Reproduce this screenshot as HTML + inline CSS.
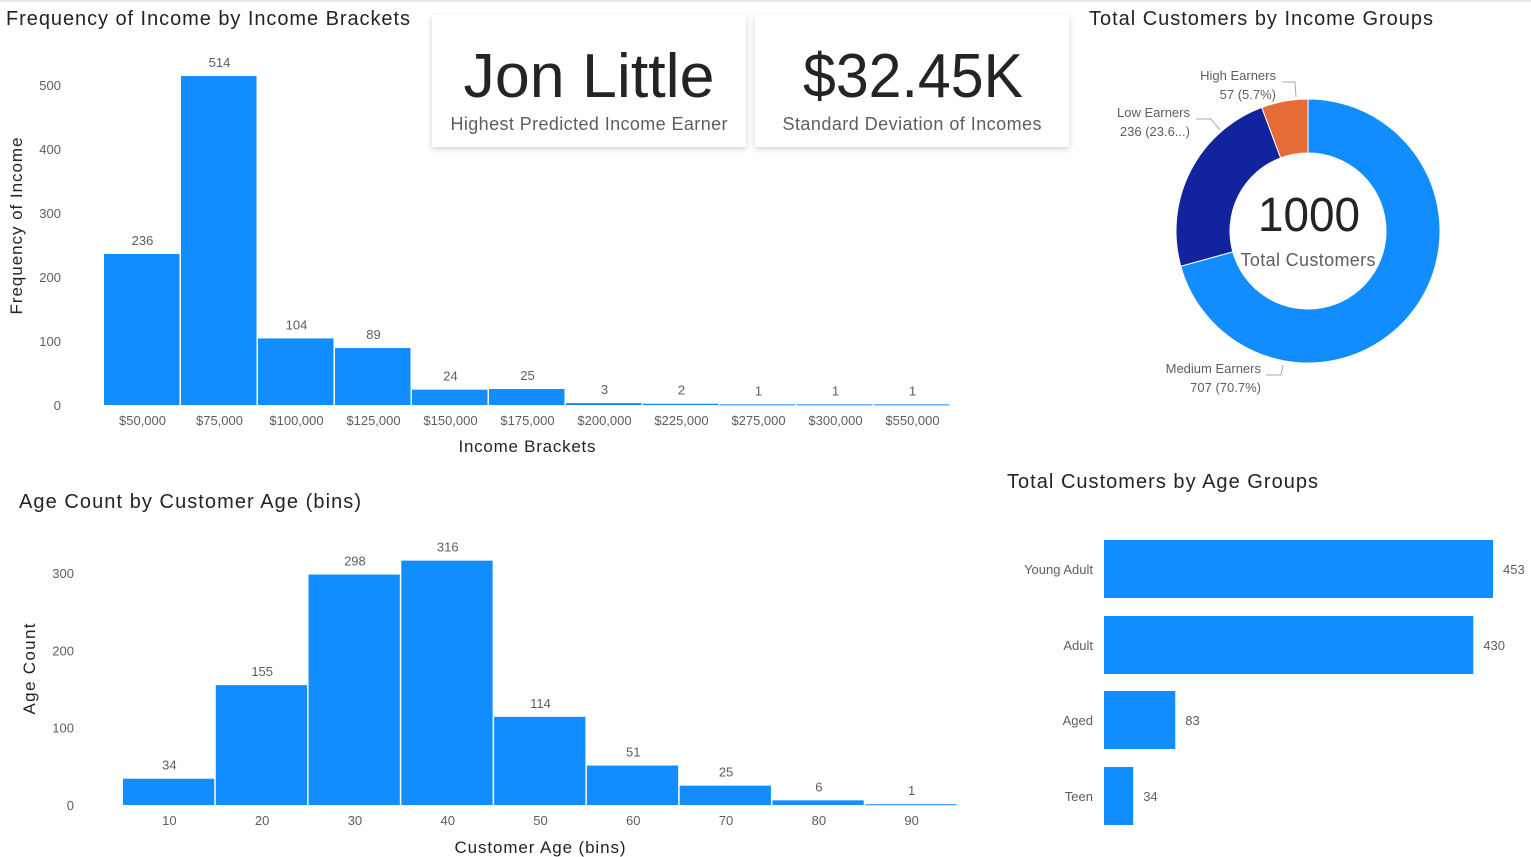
<!DOCTYPE html>
<html><head><meta charset="utf-8">
<style>
html,body{margin:0;padding:0;background:#fff;width:1531px;height:857px;overflow:hidden;font-family:"Liberation Sans",sans-serif;}
svg text{font-family:"Liberation Sans",sans-serif;}
</style></head>
<body>
<svg id="s" width="1531" height="857" xmlns="http://www.w3.org/2000/svg">
<defs>
<filter id="sh" x="-10%" y="-10%" width="120%" height="130%"><feDropShadow dx="0" dy="2" stdDeviation="3" flood-color="#000" flood-opacity="0.18"/></filter>
</defs>
<rect x="0" y="0" width="1531" height="2" fill="#e8e8e8"/>
<text x="6" y="25" font-size="20" fill="#252423" textLength="404" lengthAdjust="spacing">Frequency of Income by Income Brackets</text>
<g id="c1"></g>
<text transform="translate(22,226) rotate(-90)" text-anchor="middle" font-size="17" fill="#252423" textLength="177" lengthAdjust="spacing">Frequency of Income</text>
<text x="527" y="452" text-anchor="middle" font-size="17" fill="#252423" textLength="137" lengthAdjust="spacing">Income Brackets</text>

<g>
<rect x="432" y="15" width="314" height="132" fill="#fff" filter="url(#sh)"/>
<text x="589" y="97" text-anchor="middle" font-size="62" fill="#252423" textLength="251" lengthAdjust="spacingAndGlyphs">Jon Little</text>
<text x="589" y="130" text-anchor="middle" font-size="18" fill="#605E5C" textLength="277" lengthAdjust="spacing">Highest Predicted Income Earner</text>
</g>
<g>
<rect x="755" y="15" width="314" height="132" fill="#fff" filter="url(#sh)"/>
<text x="913" y="97" text-anchor="middle" font-size="62" fill="#252423" textLength="220" lengthAdjust="spacingAndGlyphs">$32.45K</text>
<text x="912" y="130" text-anchor="middle" font-size="18" fill="#605E5C" textLength="259" lengthAdjust="spacing">Standard Deviation of Incomes</text>
</g>

<text x="1089" y="25" font-size="20" fill="#252423" textLength="344" lengthAdjust="spacing">Total Customers by Income Groups</text>
<g id="c2"></g>
<text x="1309" y="231" text-anchor="middle" font-size="48" fill="#252423" textLength="102" lengthAdjust="spacingAndGlyphs">1000</text>
<text x="1308" y="266" text-anchor="middle" font-size="18" fill="#605E5C" textLength="135" lengthAdjust="spacing">Total Customers</text>

<text x="19" y="508" font-size="20" fill="#252423" textLength="342" lengthAdjust="spacing">Age Count by Customer Age (bins)</text>
<g id="c3"></g>
<text transform="translate(35,669) rotate(-90)" text-anchor="middle" font-size="17" fill="#252423" textLength="91" lengthAdjust="spacing">Age Count</text>
<text x="540" y="853" text-anchor="middle" font-size="17" fill="#252423" textLength="171" lengthAdjust="spacing">Customer Age (bins)</text>

<text x="1007" y="488" font-size="20" fill="#252423" textLength="311" lengthAdjust="spacing">Total Customers by Age Groups</text>
<g id="c4"></g>
</svg>
<script>
const incomeCats=["$50,000","$75,000","$100,000","$125,000","$150,000","$175,000","$200,000","$225,000","$275,000","$300,000","$550,000"];
const incomeVals=[236,514,104,89,24,25,3,2,1,1,1];
const incomeTicks=[0,100,200,300,400,500];
const groupCats=["Medium Earners","Low Earners","High Earners"];
const groupVals=[707,236,57];
const groupLabels=["707 (70.7%)","236 (23.6...)","57 (5.7%)"];
const ageCats=["10","20","30","40","50","60","70","80","90"];
const ageVals=[34,155,298,316,114,51,25,6,1];
const ageTicks=[0,100,200,300];
const ageGroupCats=["Young Adult","Adult","Aged","Teen"];
const ageGroupVals=[453,430,83,34];

const NS="http://www.w3.org/2000/svg";
function mk(p,tag,attrs,txt){const e=document.createElementNS(NS,tag);for(const k in attrs)e.setAttribute(k,attrs[k]);if(txt!==undefined)e.textContent=txt;p.appendChild(e);return e;}
const BLUE="#118DFF";

function hist(g,cats,vals,ticks,x0,x1,y0,ymax,ytop,tickX,prefix){
  const step=(x1-x0)/cats.length;
  const y=v=>y0-(v/ymax)*(y0-ytop);
  ticks.forEach(t=>{
    const e=mk(g,'text',{x:tickX,y:y(t)+5,'text-anchor':'end','font-size':13,fill:'#605E5C'},t);
    
    
  });
  cats.forEach((c,i)=>{
    const bx=x0+i*step, v=vals[i];
    const r=mk(g,'rect',{x:bx,y:y(v),width:step-1.5,height:Math.max(y0-y(v),1),fill:BLUE});
    
    
    const l=mk(g,'text',{x:bx+step/2,y:y(v)-9,'text-anchor':'middle','font-size':13,fill:'#605E5C'},v);
    
    
    const xl=mk(g,'text',{x:bx+step/2,y:y0+20,'text-anchor':'middle','font-size':13,fill:'#605E5C'},c);
    
    
  });
}
hist(document.getElementById('c1'),incomeCats,incomeVals,incomeTicks,104,951,405,500,85,61,'income');
hist(document.getElementById('c3'),ageCats,ageVals,ageTicks,123,958,805,300,573,74,'age');

(function(){
  const g=document.getElementById('c2');
  const cx=1308,cy=231,R=132,r=78;
  const cols=["#118DFF","#12239E","#E66C37"];
  const tot=groupVals.reduce((a,b)=>a+b,0);
  let a=0;
  const pt=(ang,rad)=>[cx+rad*Math.sin(ang),cy-rad*Math.cos(ang)];
  groupVals.forEach((v,i)=>{
    const a2=a+v/tot*2*Math.PI;
    const [x1,y1]=pt(a,R),[x2,y2]=pt(a2,R),[x3,y3]=pt(a2,r),[x4,y4]=pt(a,r);
    const lg=(a2-a)>Math.PI?1:0;
    const p=mk(g,'path',{d:`M${x1},${y1} A${R},${R} 0 ${lg} 1 ${x2},${y2} L${x3},${y3} A${r},${r} 0 ${lg} 0 ${x4},${y4} Z`,fill:cols[i],stroke:'#fff','stroke-width':1});
    
    
    a=a2;
  });
  const lab=[[1261,368,[[1266,375],[1281,375],[1283,365]]],[1190,112,[[1196,119],[1211,119],[1220,130]]],[1276,75,[[1282,82],[1295,82],[1296,97]]]];
  lab.forEach((L,i)=>{
    const t=mk(g,'text',{x:L[0],y:L[1]+5,'text-anchor':'end','font-size':13,fill:'#605E5C'},groupCats[i]);
    
    
    const t2=mk(g,'text',{x:L[0],y:L[1]+24,'text-anchor':'end','font-size':13,fill:'#605E5C'},groupLabels[i]);
    
    
    const pl=mk(g,'polyline',{points:L[2].map(p=>p.join(',')).join(' '),fill:'none',stroke:'#aaa','stroke-width':1});
    
    
  });
})();

(function(){
  const g=document.getElementById('c4');
  const x0=1104,scale=(1493-1104)/453;
  const tops=[540,616,691,767];
  ageGroupCats.forEach((c,i)=>{
    const v=ageGroupVals[i],w=v*scale;
    const r=mk(g,'rect',{x:x0,y:tops[i],width:w,height:58,fill:BLUE});
    
    
    const cl=mk(g,'text',{x:1093,y:tops[i]+34,'text-anchor':'end','font-size':13,fill:'#605E5C'},c);
    
    
    const vl=mk(g,'text',{x:x0+w+10,y:tops[i]+34,'font-size':13,fill:'#605E5C'},v);
    
    
  });
})();
</script>
</body></html>
